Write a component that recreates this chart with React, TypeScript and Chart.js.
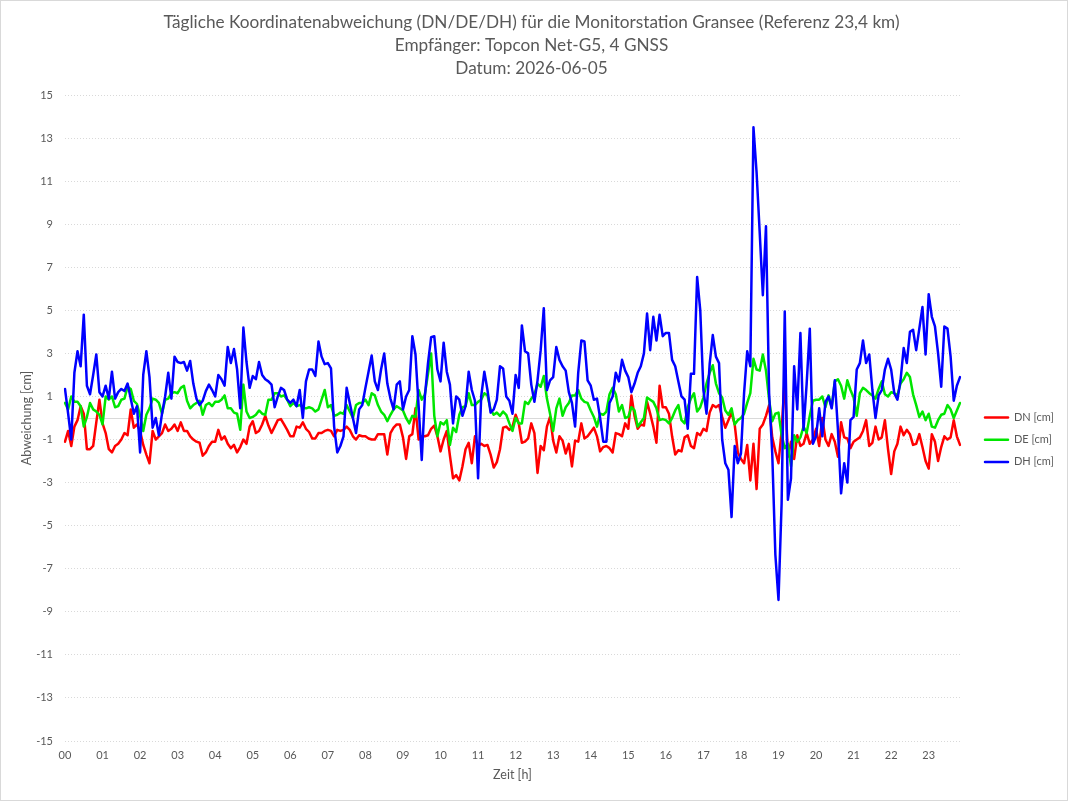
import React, { useEffect, useRef } from "react";
import { Chart, registerables } from "chart.js";

Chart.register(...registerables);

// Time categories: 5-minute epochs from 00:00 to 23:50
const TIME_LABELS: string[] = Array.from({ length: 287 }, (_, k) => {
  const h = Math.floor(k / 12);
  const m = (k % 12) * 5;
  return `${String(h).padStart(2, "0")}:${String(m).padStart(2, "0")}`;
});

const TITLE_LINES = [
  "Tägliche Koordinatenabweichung (DN/DE/DH) für die Monitorstation Gransee (Referenz 23,4 km)",
  "Empfänger: Topcon Net-G5, 4 GNSS",
  "Datum: 2026-06-05",
];

const SERIES_NAMES = ["DN [cm]", "DE [cm]", "DH [cm]"];
const SERIES_COLORS = ["#ff0000", "#00e600", "#0000ff"];

// DN [cm], one row per hour
const DN_CM: number[] = [
  -1.1, -0.6, -1.3, -0.4, -0.1, 0.55, 0.2, -1.45, -1.45, -1.3, -0.2, 0.85,
  -0.25, -0.7, -1.45, -1.6, -1.3, -1.2, -1.0, -0.7, -0.8, 0.4, -0.45, -0.3,
  -0.6, -1.25, -1.7, -2.1, -0.6, -1.0, -0.85, -0.7, -0.3, -0.6, -0.5, -0.3,
  -0.6, -0.2, -0.6, -0.6, -0.85, -1.0, -1.1, -1.15, -1.75, -1.6, -1.3, -1.1,
  -1.1, -0.55, -1.0, -0.85, -1.2, -1.4, -1.25, -1.6, -1.35, -1.0, -1.2, -0.4,
  -0.15, -0.7, -0.6, -0.3, 0.1, -0.35, -0.7, -0.4, -0.1, -0.05, -0.3, -0.55,
  -0.85, -0.85, -0.4, -0.45, -0.2, -0.5, -0.65, -0.95, -0.95, -0.7, -0.7, -0.6,
  -0.55, -0.6, -0.85, -0.55, -0.6, -0.55, -0.4, -0.55, -0.85, -1.0, -0.8, -0.85,
  -0.85, -0.95, -1.0, -1.0, -0.75, -0.75, -0.75, -1.7, -0.7, -0.45, -0.3, -0.3,
  -0.9, -1.9, -0.85, -0.75, 0.45, -1.0, -0.85, -0.85, -0.8, -0.5, -0.35, -0.85,
  -1.55, -1.0, -0.6, -1.75, -2.8, -2.65, -2.9, -2.25, -1.45, -1.15, -2.1, -0.85,
  -1.3, -1.2, -1.3, -1.25, -1.7, -2.3, -2.05, -1.45, -0.45, -0.4, -0.55, -0.4,
  0.15, -0.25, -1.15, -1.1, -0.95, -0.25, -0.7, -2.55, -1.3, -1.5, -0.4, 0.05,
  -1.05, -1.6, -0.85, -1.05, -1.65, -1.2, -2.25, -1.05, -1.1, -0.25, -0.95, -0.85,
  -0.65, -0.45, -0.85, -1.55, -1.35, -1.3, -1.4, -1.6, -0.7, -0.75, -0.85, -0.25,
  -0.5, 1.05, 0.1, -0.5, -0.3, -0.35, 0.75, 0.2, -0.4, -1.15, 1.5, 0.5,
  0.5, 0.2, -0.85, -1.7, -1.5, -1.55, -0.9, -0.8, -1.3, -1.4, -0.7, -0.8,
  -0.5, -0.6, 0.25, 0.6, 0.5, 0.6, 0.05, -0.45, -0.1, 0.25, -0.3, -1.6,
  -1.9, -2.1, -1.25, -2.9, -1.2, -3.3, -0.5, -0.3, 0.1, 0.6, -0.9, -1.55,
  -2.1, -0.6, 1.9, -1.8, -1.1, -1.9, -0.8, -1.3, -1.2, -0.7, -1.2, -1.0,
  -0.5, -1.3, 0.0, -1.0, -1.3, -0.75, -1.1, -1.8, -0.2, -0.9, -0.95, -1.4,
  -1.1, -1.0, -0.9, -0.6, -0.1, -1.3, -1.15, -0.4, -1.0, -0.9, -0.1, -1.45,
  -2.6, -1.55, -1.2, -0.4, -0.8, -0.55, -0.75, -1.25, -1.2, -0.75, -1.35, -2.0,
  -2.35, -0.75, -1.1, -2.0, -1.35, -0.85, -1.0, -0.9, -0.1, -0.85, -1.25,
];

// DE [cm], one row per hour
const DE_CM: number[] = [
  0.7, 0.4, 1.0, 0.75, 0.75, 0.55, -0.4, 0.05, 0.7, 0.4, 0.3, 0.15,
  -0.3, 1.0, 0.85, 1.0, 0.5, 0.55, 0.85, 0.9, 1.45, 1.35, 0.8, 0.65,
  0.1, -0.6, 0.15, 0.45, 0.9, 0.85, 0.7, 0.2, 0.85, 0.9, 1.15, 1.2,
  1.15, 1.4, 1.5, 0.8, 0.45, 0.6, 0.7, 0.8, 0.15, 0.6, 0.7, 0.55,
  0.75, 0.75, 0.85, 1.05, 0.45, 0.45, 0.25, 0.2, -0.55, 1.55, 0.3, 0.0,
  0.05, 0.15, 0.35, 0.2, 0.15, 0.85, 0.85, 1.15, 1.15, 1.0, 1.05, 0.85,
  0.55, 0.7, 0.55, 0.6, 0.5, 0.45, 0.5, 0.45, 0.3, 0.4, 0.85, 1.3,
  0.5, 0.6, 0.1, 0.15, 0.25, 0.2, 0.6, 0.3, 0.0, 0.6, 0.7, 0.7,
  0.85, 0.6, 1.15, 1.05, 0.6, 0.3, 0.15, -0.15, 0.15, 0.4, 0.55, 0.45,
  0.35, 0.0, -0.25, 0.1, 0.05, 1.3, 0.85, 1.1, 2.05, 3.0, 0.1, -0.85,
  -0.2, -0.3, -0.1, -1.25, -0.45, -0.65, 0.15, 0.5, 0.55, 1.15, 0.6, 0.6,
  0.75, 0.85, 1.15, 1.05, 0.4, 0.15, 0.25, 0.1, 0.3, 0.15, -0.25, -0.6,
  0.0, -0.25, -0.25, 0.75, 0.65, 0.9, 1.1, 1.6, 1.45, 1.95, 0.9, 0.2,
  -0.6, 0.45, 0.9, 0.1, 0.5, 0.7, 1.05, 1.05, 1.3, 0.9, 0.75, 0.7,
  0.35, 0.05, -0.4, 0.2, 0.15, 0.3, 1.1, 1.4, 1.1, 0.3, 0.6, 0.0,
  0.05, 0.5, 0.35, -0.4, -0.2, 0.0, 0.95, 0.85, 0.75, 0.45, -0.1, -0.05,
  -0.1, -0.25, 0.0, 0.35, 0.6, -0.1, -0.25, 0.5, 0.9, 1.15, 0.3, 0.5,
  0.95, 1.6, 2.1, 2.45, 1.6, 1.15, 0.95, 0.35, 0.15, 0.45, -0.3, -0.1,
  0.0, 0.2, 0.7, 1.15, 2.75, 2.25, 2.2, 2.95, 2.2, 0.85, -0.15, 0.2,
  0.25, -0.8, -1.4, -1.2, -2.25, -0.8, -1.1, -0.9, -0.4, -0.7, 0.1, 0.8,
  0.85, 0.85, 1.0, 0.5, 1.05, 0.5, 1.7, 1.8, 1.5, 0.9, 1.75, 1.3,
  0.95, 0.1, 1.15, 1.4, 1.3, 1.15, 1.05, 0.9, 1.35, 1.7, 1.1, 1.0,
  1.2, 1.15, 1.05, 1.6, 1.8, 2.1, 1.9, 1.1, 0.6, 0.05, 0.3, -0.1,
  0.2, -0.4, -0.45, -0.1, 0.15, 0.2, 0.6, 0.4, 0.0, 0.35, 0.7,
];

// DH [cm], one row per hour
const DH_CM: number[] = [
  1.35, 0.2, -1.0, 2.1, 3.1, 2.4, 4.8, 1.5, 1.1, 2.0, 2.95, 1.2,
  1.0, 1.5, 0.9, 2.15, 0.9, 1.2, 1.35, 1.25, 1.6, 0.9, 0.2, 0.55,
  -1.6, 2.0, 3.1, 1.9, -0.45, 0.0, -0.8, 0.2, 1.0, 2.1, 0.9, 2.85,
  2.6, 2.55, 2.6, 2.2, 2.65, 1.6, 0.9, 0.6, 0.8, 1.25, 1.55, 1.3,
  1.0, 2.0, 1.8, 1.5, 3.3, 2.55, 3.2, 2.25, 0.45, 4.2, 2.6, 1.4,
  1.95, 1.8, 2.6, 2.0, 1.8, 1.7, 1.55, 0.5, 1.0, 1.4, 1.3, 0.85,
  0.7, 0.85, 0.55, 1.3, 0.0, 1.7, 2.25, 2.25, 1.95, 3.55, 2.85, 2.5,
  2.55, 2.3, -0.4, -1.6, -1.3, -0.85, 1.4, 0.7, 0.0, -0.7, 0.4, 0.6,
  1.4, 2.15, 2.9, 1.7, 1.3, 2.25, 3.0, 1.6, 0.9, 0.4, 1.55, 1.7,
  0.4, 1.0, 1.3, 3.8, 2.95, 0.55, -1.95, 1.0, 2.55, 3.75, 3.8, 2.25,
  1.7, 3.5, 2.15, 1.55, -0.25, 1.0, 0.85, 0.1, 0.55, 2.15, 1.3, 0.8,
  -2.8, 1.0, 2.15, 1.3, 0.25, 0.4, 0.85, 2.4, 2.3, 1.0, 0.8, 0.2,
  2.0, 1.4, 4.3, 3.1, 3.0, 1.55, 0.75, 1.75, 3.15, 5.1, 1.3, 1.75,
  1.9, 3.3, 2.7, 2.4, 2.2, 1.2, 0.7, -0.4, 2.1, 3.6, 3.55, 1.75,
  1.5, 0.85, 0.9, 0.0, -1.1, -1.1, 0.7, 1.0, 2.1, 1.7, 2.7, 2.2,
  1.9, 1.2, 1.6, 2.1, 2.4, 3.0, 4.85, 3.15, 4.7, 3.6, 4.8, 3.8,
  3.95, 3.95, 2.7, 2.4, 1.7, 1.0, 0.85, -0.5, 2.05, 2.05, 6.55, 5.0,
  1.3, 0.2, 2.5, 3.85, 2.85, 2.55, -1.0, -2.1, -2.4, -4.6, -1.3, -2.1,
  -1.65, 1.15, 3.1, 2.4, 13.5, 11.4, 8.6, 5.7, 8.9, 1.15, -1.65, -6.35,
  -8.45, -3.95, 4.95, -3.8, -2.8, 2.4, 0.4, 3.95, -0.55, 1.6, 4.15, -1.2,
  -0.85, 0.45, -0.85, 0.75, 1.0, 0.45, 1.75, -0.55, -3.5, -2.1, -3.0, -0.1,
  0.05, 2.25, 2.55, 3.6, 2.55, 2.95, 1.3, 0.0, 1.05, 1.3, 2.25, 2.75,
  2.25, 1.15, 0.85, 1.75, 3.25, 2.55, 4.0, 4.1, 3.15, 4.15, 5.15, 2.95,
  5.75, 4.7, 4.25, 3.0, 1.45, 4.25, 4.15, 2.85, 0.8, 1.5, 1.9,
];

const Y_MIN = -15;
const Y_MAX = 15;
const Y_STEP = 2;

const TEXT_COLOR = "#595959";
const GRID_COLOR = "#d9d9d9";
const FONT = "Lato";

const zeroLinePlugin = {
  id: "zeroLine",
  beforeDatasetsDraw(chart: any) {
    const { ctx, chartArea, scales } = chart;
    const y = Math.round(scales.y.getPixelForValue(0)) + 0.5;
    ctx.save();
    ctx.strokeStyle = GRID_COLOR;
    ctx.lineWidth = 1;
    ctx.beginPath();
    ctx.moveTo(chartArea.left, y);
    ctx.lineTo(chartArea.right, y);
    ctx.stroke();
    ctx.restore();
  },
};

const sideLegendPlugin = {
  id: "sideLegend",
  afterDraw(chart: any) {
    const { ctx } = chart;
    const x0 = 984;
    const lineLen = 23;
    const y0 = 416.5;
    const dy = 22.2;
    ctx.save();
    chart.data.datasets.forEach((ds: any, i: number) => {
      const y = y0 + i * dy;
      ctx.strokeStyle = ds.borderColor;
      ctx.lineWidth = 2.5;
      ctx.lineCap = "round";
      ctx.beginPath();
      ctx.moveTo(x0, y);
      ctx.lineTo(x0 + lineLen, y);
      ctx.stroke();
      ctx.fillStyle = TEXT_COLOR;
      ctx.font = `11px ${FONT}`;
      ctx.textAlign = "left";
      ctx.textBaseline = "middle";
      ctx.fillText(ds.label, x0 + lineLen + 6, y);
    });
    ctx.restore();
  },
};

export default function App() {
  const canvasRef = useRef<HTMLCanvasElement>(null);

  useEffect(() => {
    document.body.style.margin = "0";
    const canvas = canvasRef.current;
    if (!canvas) return;
    const seriesData = [DN_CM, DE_CM, DH_CM];
    const chart = new Chart(canvas, {
      type: "line",
      data: {
        labels: TIME_LABELS,
        datasets: seriesData.map((d, i) => ({
          label: SERIES_NAMES[i],
          data: d,
          borderColor: SERIES_COLORS[i],
          backgroundColor: SERIES_COLORS[i],
          borderWidth: 2.5,
          pointRadius: 0,
          pointHoverRadius: 0,
          tension: 0,
          fill: false,
          borderJoinStyle: "round" as const,
          borderCapStyle: "round" as const,
          order: 3 - i,
        })),
      },
      options: {
        responsive: false,
        animation: false,
        devicePixelRatio: 1,
        events: [],
        layout: { padding: { left: 0, right: 5, top: 0, bottom: 18 } },
        plugins: {
          legend: { display: false },
          tooltip: { enabled: false },
          title: {
            display: true,
            text: TITLE_LINES,
            color: TEXT_COLOR,
            font: { family: FONT, size: 17.2, weight: "normal", lineHeight: 23 / 17.2 },
            padding: { top: 9.5, bottom: 15.5 },
          },
        },
        scales: {
          x: {
            type: "category",
            offset: false,
            grid: { display: false, drawTicks: false },
            border: { display: false },
            ticks: {
              autoSkip: false,
              maxRotation: 0,
              minRotation: 0,
              padding: 8,
              color: TEXT_COLOR,
              font: { family: FONT, size: 11 },
              callback: (_v: any, idx: number) =>
                idx % 12 === 0 ? TIME_LABELS[idx].slice(0, 2) : null,
            },
            title: {
              display: true,
              text: "Zeit [h]",
              color: TEXT_COLOR,
              font: { family: FONT, size: 12.5 },
              padding: { top: 0, bottom: 0 },
            },
            afterFit: (s: any) => {
              s.height = 41;
            },
          },
          y: {
            type: "linear",
            position: "left",
            min: Y_MIN,
            max: Y_MAX,
            grid: { color: GRID_COLOR, lineWidth: 1, drawTicks: false },
            border: { display: false, dash: [1, 2] },
            ticks: {
              stepSize: Y_STEP,
              padding: 12,
              color: TEXT_COLOR,
              font: { family: FONT, size: 11 },
            },
            title: {
              display: true,
              text: "Abweichung [cm]",
              color: TEXT_COLOR,
              font: { family: FONT, size: 12.5 },
              padding: { top: 18.5, bottom: 0 },
            },
            afterFit: (s: any) => {
              s.width = 64;
            },
          },
          legendSpace: {
            type: "linear",
            position: "right",
            display: true,
            grid: { display: false, drawTicks: false },
            border: { display: false },
            ticks: { display: false },
            afterFit: (s: any) => {
              s.width = 102;
            },
          },
        },
      },
      plugins: [zeroLinePlugin, sideLegendPlugin],
    } as any);
    return () => chart.destroy();
  }, []);

  return (
    <div
      style={{
        width: 1068,
        height: 801,
        boxSizing: "border-box",
        border: "1px solid #d9d9d9",
        background: "#ffffff",
      }}
    >
      <canvas
        ref={canvasRef}
        width={1066}
        height={799}
        style={{ display: "block", width: 1066, height: 799 }}
      />
    </div>
  );
}
